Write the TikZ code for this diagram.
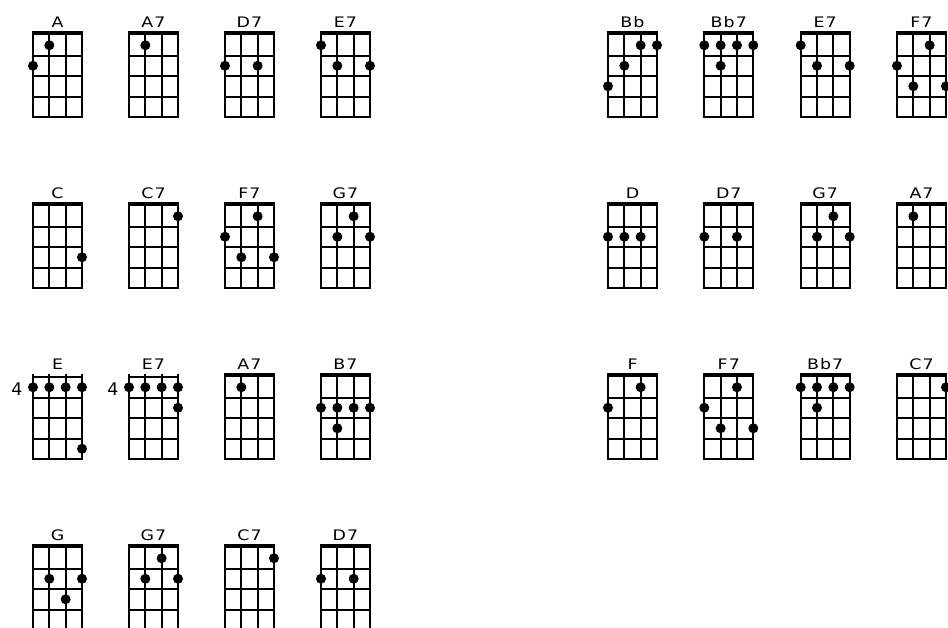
\documentclass[tikz,border=0pt]{standalone}
\usepackage{fontspec}
\newfontfamily\chordfont[LetterSpace=6]{DejaVu Sans}
\tikzset{
  fret/.style={line width=2pt},
  nut/.style={line width=4.5pt},
  chordname/.style={anchor=base, inner sep=0pt,
    font=\chordfont\fontsize{14.5}{17}\selectfont},
  fingerdot/.style={fill=black},
}
% [position] {x} {y} {node name} {chord name} {string/fret list}
\newcommand{\ukechord}[6][]{%
  \begin{scope}[shift={(#2,#3)}]
    \node[chordname] (#4) at (24.5,-8) {\scalebox{1.2}[1]{#5}};
    % Frets
    \foreach \f in {1,...,4} \draw[fret] (-1,{\f*20.5}) -- (50,{\f*20.5});
    \if\relax\detokenize{#1}\relax
      % Nut
      \foreach \s in {0,...,3} \draw[fret] ({\s*16.33},-3) -- ({\s*16.33},83);
      \draw[nut] (-1,-2) -- (50,-2);
    \else
      % Position
      \foreach \s in {0,...,3} \draw[fret] ({\s*16.33},-3.5) -- ({\s*16.33},83);
      \draw[fret] (-1,0) -- (50,0);
      \node[chordname, anchor=center] (#4-pos) at (-16,12) {\scalebox{1.2}{#1}};
    \fi
    % Fingers
    \foreach \s/\f in {#6}
      \fill[fingerdot] ({(\s-1)*16.33},{\f*20.5-10.25}) circle[radius=5pt];
  \end{scope}}
\begin{document}
\begin{tikzpicture}[x=1pt, y=-1pt]
  \useasboundingbox[fill=white] (0,0) rectangle (948,627);
  % Row 1
  \ukechord{33}{35}{a1}{A}{2/1,1/2}
  \ukechord{129}{35}{aseven1}{A7}{2/1}
  \ukechord{225}{35}{dseven1}{D7}{1/2,3/2}
  \ukechord{321}{35}{eseven1}{E7}{1/1,2/2,4/2}
  \ukechord{608}{35}{bflat1}{Bb}{3/1,4/1,2/2,1/3}
  \ukechord{704.3}{35}{bflatseven1}{Bb7}{1/1,2/1,3/1,4/1,2/2}
  \ukechord{800.7}{35}{eseven2}{E7}{1/1,2/2,4/2}
  \ukechord{897}{35}{fseven1}{F7}{3/1,1/2,2/3,4/3}
  % Row 2
  \ukechord{33}{206}{c1}{C}{4/3}
  \ukechord{129}{206}{cseven1}{C7}{4/1}
  \ukechord{225}{206}{fseven2}{F7}{3/1,1/2,2/3,4/3}
  \ukechord{321}{206}{gseven1}{G7}{3/1,2/2,4/2}
  \ukechord{608}{206}{d1}{D}{1/2,2/2,3/2}
  \ukechord{704.3}{206}{dseven2}{D7}{1/2,3/2}
  \ukechord{800.7}{206}{gseven2}{G7}{3/1,2/2,4/2}
  \ukechord{897}{206}{aseven2}{A7}{2/1}
  % Row 3
  \ukechord[4]{33}{377}{e1}{E}{1/1,2/1,3/1,4/1,4/4}
  \ukechord[4]{129}{377}{eseven3}{E7}{1/1,2/1,3/1,4/1,4/2}
  \ukechord{225}{377}{aseven3}{A7}{2/1}
  \ukechord{321}{377}{bseven1}{B7}{1/2,2/2,3/2,4/2,2/3}
  \ukechord{608}{377}{f1}{F}{3/1,1/2}
  \ukechord{704.3}{377}{fseven3}{F7}{3/1,1/2,2/3,4/3}
  \ukechord{800.7}{377}{bflatseven2}{Bb7}{1/1,2/1,3/1,4/1,2/2}
  \ukechord{897}{377}{cseven2}{C7}{4/1}
  % Row 4
  \ukechord{33}{548}{g1}{G}{2/2,4/2,3/3}
  \ukechord{129}{548}{gseven3}{G7}{3/1,2/2,4/2}
  \ukechord{225}{548}{cseven3}{C7}{4/1}
  \ukechord{321}{548}{dseven3}{D7}{1/2,3/2}
\end{tikzpicture}
\end{document}
